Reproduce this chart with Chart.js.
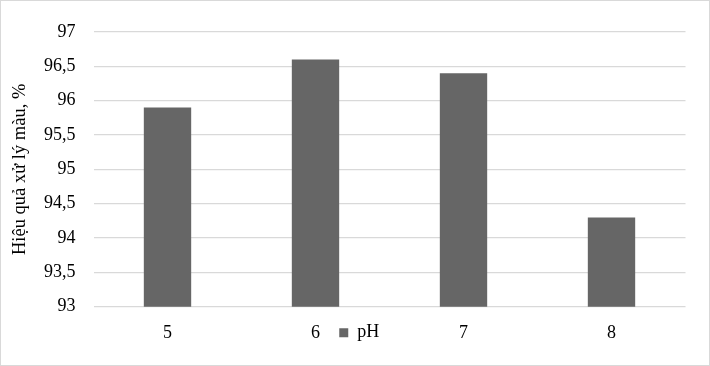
<!DOCTYPE html>
<html>
<head>
<meta charset="utf-8">
<script src="https://cdn.jsdelivr.net/npm/chart.js@4.4.0/dist/chart.umd.min.js"></script>
<style>
    html, body { margin: 0; padding: 0; background: #fff; }
    #wrap {
        width: 710px; height: 366px;
        box-sizing: border-box;
        border: 1px solid #d9d9d9;
    }
    canvas { display: block; }
</style>
</head>
<body>
<div id="wrap"><canvas id="chart" width="708" height="364"></canvas></div>
<script>
// --- Data ---
const phLabels = ['5', '6', '7', '8'];
const efficiency = [95.9, 96.6, 96.4, 94.3];
const seriesName = 'pH';
const yTitle = 'Hiệu quả xử lý màu, %';
const yMin = 93;
const yMax = 97;
const yStep = 0.5;

const serif = "'Liberation Serif', 'Times New Roman', serif";

// Excel puts the legend on the same row as the category labels;
// slide the legend box up after layout so it lines up with them.
const legendOnTickRow = {
    id: 'legendOnTickRow',
    afterLayout(chart) {
        const lg = chart.legend;
        const x = chart.scales.x;
        const rowMid = x.top + 16 + 10;
        const dy = lg.top + 9 - rowMid;
        lg.top -= dy;
        lg.bottom -= dy;
        lg.left += 16;
        lg.right += 16;
    }
};

const ctx = document.getElementById('chart').getContext('2d');

new Chart(ctx, {
    type: 'bar',
    data: {
        labels: phLabels,
        datasets: [{
            label: seriesName,
            data: efficiency,
            backgroundColor: '#666666',
            borderWidth: 0,
            categoryPercentage: 1,
            barPercentage: 0.32
        }]
    },
    options: {
        responsive: false,
        animation: false,
        layout: {
            padding: { top: 31, right: 23.5, bottom: 0, left: 0 }
        },
        scales: {
            x: {
                grid: { display: false, drawTicks: false },
                border: { display: false },
                ticks: {
                    color: '#000',
                    font: { family: serif, size: 18 },
                    padding: 16,
                    maxRotation: 0
                },
                afterFit(scale) { scale.height = 40; }
            },
            y: {
                min: yMin,
                max: yMax,
                grid: { color: '#d9d9d9', lineWidth: 1.3, drawTicks: false },
                border: { display: false },
                ticks: {
                    stepSize: yStep,
                    color: '#000',
                    font: { family: serif, size: 18 },
                    padding: 18,
                    callback: v => String(v).replace('.', ',')
                },
                title: {
                    display: true,
                    text: yTitle,
                    color: '#000',
                    font: { family: serif, size: 18.5 },
                    padding: { top: 8, bottom: 0 }
                },
                afterFit(scale) { scale.width = 92.5; }
            }
        },
        plugins: {
            legend: {
                position: 'bottom',
                maxHeight: 18.3,
                labels: {
                    color: '#000',
                    font: { family: serif, size: 18 },
                    boxWidth: 9,
                    boxHeight: 9,
                    padding: 0
                }
            },
            tooltip: { enabled: false }
        }
    },
    plugins: [legendOnTickRow]
});
</script>
</body>
</html>
